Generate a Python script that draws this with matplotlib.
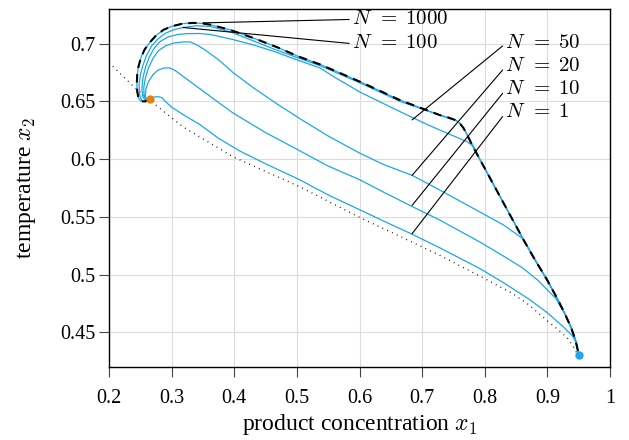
import matplotlib
matplotlib.use("Agg")
import matplotlib.pyplot as plt

plt.rcParams['font.family'] = ['Liberation Serif', 'DejaVu Serif']
plt.rcParams['mathtext.fontset'] = 'cm'
plt.rcParams['lines.scale_dashes'] = False

BLUE = '#1aa7ee'
ORANGE = '#dd8510'

# steady state manifold (dotted)
ss_x = [0.200, 0.239, 0.265, 0.318, 0.398, 0.505, 0.600, 0.665, 0.729, 0.800, 0.845, 0.870, 0.900, 0.920, 0.932, 0.941, 0.949]
ss_y = [0.6835, 0.663, 0.651, 0.628, 0.602, 0.576, 0.5496, 0.533, 0.5165, 0.4965, 0.4835, 0.474, 0.460, 0.451, 0.445, 0.438, 0.430]

# closed loop trajectories for different horizons N
n1_x = [0.265, 0.270, 0.275, 0.280, 0.285, 0.290, 0.300, 0.320, 0.345, 0.375, 0.409, 0.450, 0.505, 0.550, 0.601, 0.640,
        0.684, 0.729, 0.793, 0.830, 0.870, 0.900, 0.925, 0.940, 0.946, 0.950]
n1_y = [0.652, 0.6535, 0.654, 0.654, 0.653, 0.650, 0.645, 0.638, 0.630, 0.618, 0.607, 0.596, 0.582, 0.569, 0.556, 0.546,
        0.535, 0.523, 0.505, 0.493, 0.479, 0.467, 0.455, 0.447, 0.441, 0.430]

n10_x = [0.265, 0.260, 0.258, 0.259, 0.263, 0.270, 0.278, 0.288, 0.297, 0.305, 0.315, 0.330, 0.350, 0.375, 0.398, 0.450,
         0.502, 0.550, 0.601, 0.640, 0.684, 0.729, 0.793, 0.830, 0.860, 0.885, 0.914, 0.928, 0.938, 0.945, 0.948, 0.950]
n10_y = [0.652, 0.651, 0.655, 0.661, 0.667, 0.673, 0.677, 0.679, 0.679, 0.677, 0.673, 0.667, 0.659, 0.649, 0.640, 0.623,
         0.608, 0.594, 0.582, 0.571, 0.559, 0.547, 0.528, 0.516, 0.506, 0.495, 0.479, 0.466, 0.454, 0.443, 0.436, 0.430]

n20_x = [0.265, 0.259, 0.256, 0.2555, 0.258, 0.263, 0.270, 0.279, 0.290, 0.303, 0.318, 0.330, 0.340, 0.355, 0.375, 0.398,
         0.430, 0.465, 0.505, 0.550, 0.601, 0.640, 0.684, 0.729, 0.793, 0.830, 0.861, 0.880, 0.900, 0.916, 0.928, 0.938,
         0.945, 0.948, 0.950]
n20_y = [0.652, 0.651, 0.655, 0.662, 0.670, 0.679, 0.687, 0.694, 0.698, 0.7005, 0.7015, 0.7015, 0.699, 0.694, 0.686, 0.675,
         0.662, 0.649, 0.635, 0.620, 0.605, 0.595, 0.586, 0.573, 0.554, 0.543, 0.531, 0.513, 0.495, 0.479, 0.466, 0.454,
         0.443, 0.436, 0.430]

n50_x = [0.265, 0.258, 0.254, 0.2525, 0.254, 0.258, 0.264, 0.272, 0.282, 0.295, 0.310, 0.325, 0.345, 0.361, 0.395, 0.430,
         0.465, 0.500, 0.537, 0.560, 0.601, 0.650, 0.700, 0.729, 0.755, 0.772, 0.780, 0.788, 0.800, 0.813, 0.825, 0.836,
         0.848, 0.861, 0.880, 0.900, 0.916, 0.928, 0.938, 0.945, 0.948, 0.950]
n50_y = [0.652, 0.651, 0.654, 0.661, 0.670, 0.679, 0.688, 0.696, 0.702, 0.706, 0.708, 0.7087, 0.7088, 0.708, 0.704, 0.699,
         0.693, 0.686, 0.679, 0.671, 0.658, 0.645, 0.632, 0.625, 0.619, 0.615, 0.612, 0.604, 0.592, 0.579, 0.567, 0.556,
         0.544, 0.531, 0.513, 0.495, 0.479, 0.466, 0.454, 0.443, 0.436, 0.430]

n100_x = [0.265, 0.258, 0.252, 0.249, 0.248, 0.250, 0.254, 0.260, 0.268, 0.278, 0.290, 0.303, 0.318, 0.340, 0.361, 0.395,
          0.430, 0.465, 0.500, 0.537, 0.601, 0.665, 0.729, 0.745, 0.753, 0.761, 0.769, 0.777, 0.782, 0.790, 0.800, 0.813,
          0.825, 0.836, 0.848, 0.861, 0.880, 0.900, 0.916, 0.928, 0.938, 0.945, 0.948, 0.950]
n100_y = [0.652, 0.650, 0.651, 0.656, 0.664, 0.673, 0.681, 0.690, 0.698, 0.704, 0.709, 0.712, 0.714, 0.7155, 0.715, 0.710,
          0.7025, 0.695, 0.688, 0.681, 0.666, 0.650, 0.638, 0.635, 0.634, 0.631, 0.624, 0.615, 0.611, 0.602, 0.592, 0.579,
          0.567, 0.556, 0.544, 0.531, 0.513, 0.495, 0.479, 0.466, 0.454, 0.443, 0.436, 0.430]

n1000_x = [0.265, 0.258, 0.251, 0.247, 0.245, 0.2445, 0.245, 0.247, 0.251, 0.257, 0.265, 0.275, 0.287, 0.300, 0.318,
           0.335, 0.350, 0.361, 0.393, 0.430, 0.468, 0.502, 0.537, 0.601, 0.665, 0.729, 0.742, 0.752, 0.760, 0.766,
           0.772, 0.781, 0.790, 0.800, 0.813, 0.825, 0.836, 0.848, 0.861, 0.880, 0.900, 0.916, 0.928, 0.938, 0.945,
           0.948, 0.950]
n1000_y = [0.652, 0.650, 0.650, 0.653, 0.659, 0.666, 0.673, 0.680, 0.688, 0.695, 0.701, 0.707, 0.712, 0.715, 0.7174,
           0.718, 0.7175, 0.7165, 0.712, 0.705, 0.697, 0.689, 0.682, 0.667, 0.651, 0.638, 0.636, 0.634, 0.631, 0.627,
           0.621, 0.611, 0.602, 0.592, 0.579, 0.567, 0.556, 0.544, 0.531, 0.513, 0.495, 0.479, 0.466, 0.454, 0.443,
           0.436, 0.430]

x0 = (0.265, 0.652)   # initial state
xs = (0.950, 0.430)   # optimal steady state

horizons = ['1000', '100', '50', '20', '10', '1']
labels = [r'$N\;\,=\;%s$' % h for h in horizons]
label_pts = [(0.350, 0.718), (0.318, 0.714), (0.684, 0.634), (0.684, 0.586), (0.684, 0.560), (0.684, 0.5355)]
label_txt = [(0.588, 0.721), (0.588, 0.700), (0.833, 0.700), (0.833, 0.680), (0.833, 0.660), (0.833, 0.640)]

fig = plt.figure(figsize=(6.29, 4.40), dpi=100)
ax = fig.add_axes([0.1733, 0.1659, 0.7965, 0.8136])

ax.plot(ss_x, ss_y, color='black', lw=1.0, linestyle=(0, (0.6, 3.2)))
for xx, yy in [(n1_x, n1_y), (n10_x, n10_y), (n20_x, n20_y), (n50_x, n50_y), (n100_x, n100_y), (n1000_x, n1000_y)]:
    ax.plot(xx, yy, color=BLUE, lw=0.9)
ax.plot(n1000_x, n1000_y, color='black', lw=1.5, dashes=(6, 4.5))

ax.plot([x0[0]], [x0[1]], 'o', color=ORANGE, ms=5, zorder=5)
ax.plot([xs[0]], [xs[1]], 'o', color=BLUE, ms=5, zorder=5)

for lab, pt, tp in zip(labels, label_pts, label_txt):
    ax.annotate(lab, xy=pt, xytext=tp, ha='left', va='center', fontsize=15,
                arrowprops=dict(arrowstyle='-', lw=0.8, color='black',
                                shrinkA=0, shrinkB=0, relpos=(0, 0.5)))

ax.set_xlim(0.2, 1.0)
ax.set_ylim(0.42, 0.73)
ax.set_xticks([0.2, 0.3, 0.4, 0.5, 0.6, 0.7, 0.8, 0.9, 1.0])
ax.set_xticklabels(['0.2', '0.3', '0.4', '0.5', '0.6', '0.7', '0.8', '0.9', '1'])
ax.set_yticks([0.45, 0.5, 0.55, 0.6, 0.65, 0.7])
ax.set_yticklabels(['0.45', '0.5', '0.55', '0.6', '0.65', '0.7'])
ax.tick_params(direction='out', length=7, width=0.8, color='#444444', labelsize=14.5, top=False, right=False)
ax.tick_params(axis='x', pad=9)
ax.tick_params(axis='y', pad=3)
ax.grid(True, color='#dcdcdc', lw=0.8)
ax.set_axisbelow(True)
for s in ax.spines.values():
    s.set_linewidth(1.0)

ax.set_xlabel('product concentration $x_1$', fontsize=17, labelpad=3)
ax.set_ylabel('temperature $x_2$', fontsize=17, labelpad=16)

fig.savefig('out.png', dpi=100)
